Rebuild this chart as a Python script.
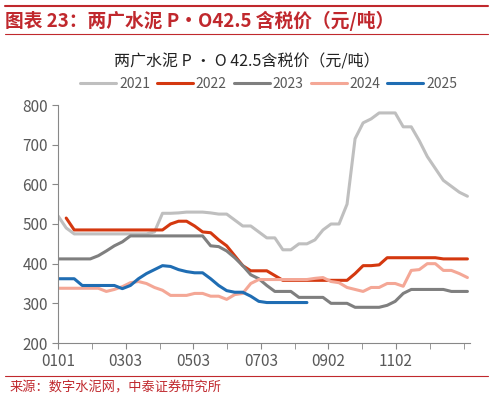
import numpy as np, pandas as pd, matplotlib
matplotlib.use("Agg")
import matplotlib.pyplot as plt, seaborn as sns
from matplotlib.lines import Line2D

sns.set_style("white")
plt.rcParams['font.family'] = ['Noto Sans CJK SC', 'DejaVu Sans']

y2021 = [520,490,475,475,475,475,475,475,475,475,475,475,480,527,527,528,530,530,530,528,525,525,510,495,495,480,465,465,435,435,450,450,460,485,500,500,550,715,755,765,780,780,780,745,745,710,670,640,610,595,580,570]
y2022 = [np.nan,515,485,485,485,485,485,485,485,485,485,485,485,485,500,507,507,495,480,478,460,445,420,395,382,382,382,370,358,358,358,358,358,358,358,358,358,375,395,395,397,415,415,415,415,415,415,415,412,412,412,412]
y2023 = [412,412,412,412,412,420,432,445,455,470,470,470,470,470,470,470,470,470,470,445,443,432,415,395,372,362,345,330,330,330,315,315,315,315,300,300,300,290,290,290,290,295,305,325,335,335,335,335,335,330,330,330]
y2024 = [338,338,338,338,338,338,330,335,342,352,355,350,340,333,320,320,320,325,325,318,318,310,322,325,350,360,360,360,360,360,360,360,363,365,355,352,340,335,330,340,340,350,350,343,383,385,400,400,383,383,375,365]
y2025 = [362,362,362,345,345,345,345,345,337,345,362,375,385,395,393,385,380,377,377,362,345,332,328,328,318,305,302,302,302,302,302,302]
years = ["2021","2022","2023","2024","2025"]
series = [y2021,y2022,y2023,y2024,y2025]
colors = ["#BFBFBF","#D4380F","#7F7F7F","#F4A796","#1F6DB3"]
tick_labels = ["0101","0303","0503","0703","0902","1102"]

rows = []
for yr, s in zip(years, series):
    for i, v in enumerate(s):
        rows.append((yr, i, v))
df = pd.DataFrame(rows, columns=["year","week","price"])

fig = plt.figure(figsize=(4.93,4.0), dpi=100)
ax = fig.add_axes([0.118,0.1425,0.835,0.595])
sns.lineplot(data=df, x="week", y="price", hue="year", palette=dict(zip(years,colors)),
             linewidth=2.2, ax=ax, legend=False)
ax.set_ylim(200,800)
ax.set_xlim(0,51.3)
ax.set_yticks(range(200,801,100))
step = 4.21
ax.set_xticks([i*step for i in range(13)], minor=True)
ax.set_xticks([i*2*step for i in range(6)])
ax.set_xticklabels(tick_labels)
ax.tick_params(axis='x', which='both', length=4, direction='out', color='#888888', bottom=True)
ax.tick_params(axis='y', length=4, color='#888888', left=True)
ax.tick_params(labelsize=11, labelcolor='#595959')
for sp in ["top","right"]:
    ax.spines[sp].set_visible(False)
for sp in ["left","bottom"]:
    ax.spines[sp].set_color('#888888')
ax.set_xlabel(""); ax.set_ylabel("")

handles = [Line2D([0],[0],color=c,lw=2.2) for c in colors]
fig.legend(handles, years, loc='center', bbox_to_anchor=(0.545,0.79), ncol=5, frameon=False,
           fontsize=10, labelcolor='#595959', handlelength=2.6, columnspacing=0.5, handletextpad=0.2)
fig.text(0.5,0.845,"两广水泥 P · O 42.5含税价（元/吨）", ha='center', va='center', fontsize=11.5, color='#222222')
fig.text(0.01,0.947,"图表 23：两广水泥 P·O42.5 含税价（元/吨）", ha='left', va='center', fontsize=13.5,
         color='#C0282D', fontweight='bold', fontstyle='italic')
fig.add_artist(Line2D([0.01,0.99],[0.985,0.985], color='#C0282D', lw=1.5))
fig.add_artist(Line2D([0.01,0.99],[0.915,0.915], color='#C0282D', lw=0.8))
fig.add_artist(Line2D([0.01,0.99],[0.06,0.06], color='#C0282D', lw=0.8))
fig.text(0.02,0.03,"来源：数字水泥网，中泰证券研究所", ha='left', va='center', fontsize=9.5, color='#C0282D')
fig.savefig("out.png", dpi=100)
